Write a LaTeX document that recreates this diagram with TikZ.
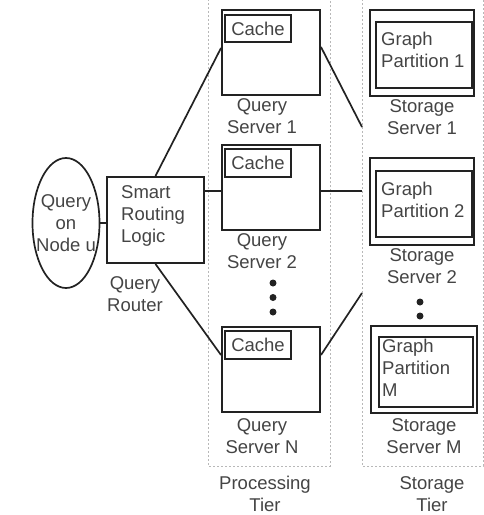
\documentclass[tikz,border=0pt]{standalone}
\usepackage{fontspec}
\setmainfont{Liberation Sans}
\usetikzlibrary{shapes.geometric}
\definecolor{linec}{HTML}{222222}
\definecolor{textc}{HTML}{444444}
\definecolor{tierc}{HTML}{B8B8B8}
\begin{document}
\begin{tikzpicture}[x=1pt,y=-1pt,
  every node/.style={font=\fontsize{18.5}{22}\selectfont, text=textc},
  srv/.style={draw=linec, line width=2pt, inner sep=0pt},
  inner/.style={draw=linec, line width=2pt, inner sep=0pt},
  lbl/.style={align=center, inner sep=0pt},
  txt/.style={align=left, inner sep=0pt, anchor=north west},
  tier/.style={draw=tierc, line width=0.8pt, dash pattern=on 2pt off 2pt},
  conn/.style={draw=linec, line width=1.7pt},
  dotc/.style={fill=linec, circle, inner sep=0pt, minimum size=7pt}]
\useasboundingbox (0,0) rectangle (484,515);

% tiers
\draw[tier] (208,-5) rectangle (330,466);
\draw[tier] (362,-5) rectangle (483,466);
\node[lbl] (ptier) at (265,494) {Processing\\Tier};
\node[lbl] (stier) at (432,494) {Storage\\Tier};

% query node
\node[ellipse, draw=linec, line width=1.7pt, minimum width=67pt, minimum height=130pt, inner sep=0pt] (q) at (66,223) {};
\node[lbl] at (66,223) {Query\\on\\Node u};

% router
\node[srv, minimum width=97pt, minimum height=86pt] (router) at (155.5,220) {};
\node[txt] at (121,185) {Smart\\Routing\\Logic};
\node[lbl] (rl) at (135,294) {Query\\Router};

% query servers
\node[srv, minimum width=98pt, minimum height=85pt] (qs1) at (271,52.5) {};
\node[inner, minimum width=66pt, minimum height=27pt] (c1) at (258,28.5) {Cache};
\node[lbl] at (262,116) {Query\\Server 1};

\node[srv, minimum width=98pt, minimum height=85pt] (qs2) at (271,187.5) {};
\node[inner, minimum width=66pt, minimum height=28pt] (c2) at (258,162.5) {Cache};
\node[lbl] at (262,251) {Query\\Server 2};

\node[srv, minimum width=98pt, minimum height=85pt] (qsn) at (271,369.5) {};
\node[inner, minimum width=66pt, minimum height=28pt] (cn) at (258,344.5) {Cache};
\node[lbl] at (262,436) {Query\\Server N};

\node[dotc] at (273,283) {};
\node[dotc] at (273,297.5) {};
\node[dotc] at (273,312) {};

% storage servers
\node[srv, minimum width=104pt, minimum height=86pt] (ss1) at (422,53) {};
\node[inner, minimum width=96pt, minimum height=66pt] (g1) at (424,55) {};
\node[txt] at (381,32) {Graph\\Partition 1};
\node[lbl] at (422,117) {Storage\\Server 1};

\node[srv, minimum width=104pt, minimum height=87pt] (ss2) at (422,201.5) {};
\node[inner, minimum width=96pt, minimum height=66pt] (g2) at (424,204) {};
\node[txt] at (381,182) {Graph\\Partition 2};
\node[lbl] at (422,266) {Storage\\Server 2};

\node[dotc] at (420,302) {};
\node[dotc] at (420,316) {};

\node[srv, minimum width=106pt, minimum height=87pt] (ssm) at (424,369.5) {};
\node[inner, minimum width=94pt, minimum height=70pt] (gm) at (425.5,372) {};
\node[txt] at (382,339) {Graph\\Partition\\M};
\node[lbl] at (424,436) {Storage\\Server M};

% connectors
\coordinate (t1) at (362,127);
\coordinate (t2) at (362,191);
\coordinate (tn) at (362,293);
\draw[conn] (q.east) -- (router.west |- q.east);
\draw[conn] (router.north) -- (qs1.west |- 0,48);
\draw[conn] (router.east |- 0,191) -- (qs2.west |- 0,191);
\draw[conn] (router.south) -- (qsn.west |- 0,355);
\draw[conn] (qs1.east |- 0,47) -- (t1);
\draw[conn] (qs2.east |- 0,191) -- (t2);
\draw[conn] (qsn.east |- 0,355) -- (tn);
\end{tikzpicture}
\end{document}
